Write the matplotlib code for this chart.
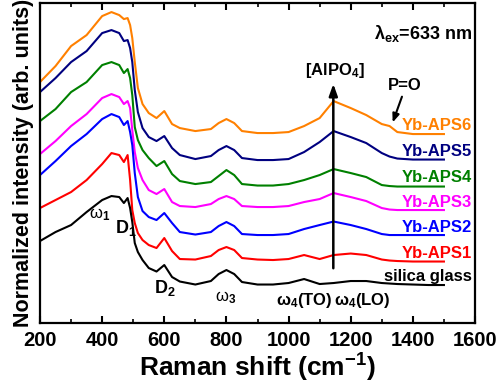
import matplotlib
matplotlib.use("Agg")
import matplotlib.pyplot as plt
from matplotlib.ticker import MultipleLocator

plt.rcParams.update({"font.family": "Liberation Sans", "font.weight": "bold",
                     "mathtext.fontset": "custom", "mathtext.rm": "Liberation Sans:bold",
                     "mathtext.it": "Liberation Sans:bold", "mathtext.bf": "Liberation Sans:bold"})

# Raman shift grid (cm-1), shared by all spectra
wn = [200, 250, 300, 350, 400, 430, 455, 470, 482, 490, 497, 505, 515, 530, 550, 575,
      600, 625, 650, 700, 750, 775, 800, 825, 850, 900, 950, 1000, 1050, 1100, 1145,
      1200, 1250, 1300, 1325, 1350, 1400, 1450, 1500]

# stacked normalized intensities (arb. units, offsets included)
aps6 = [241, 257, 277, 288, 307, 311, 308, 304, 305, 298, 285, 261, 235, 219, 210, 205,
        212, 199, 195, 192, 194, 200, 204, 200, 192, 190, 190, 191, 197, 205, 222,
        215, 208, 199, 197, 191, 189, 189, 189]
aps5 = [231, 245, 261, 272, 290, 293, 290, 282, 283, 275, 261, 233, 211, 195, 186, 182,
        187, 175, 168, 164, 167, 173, 177, 173, 165, 163, 163, 164, 171, 181, 192,
        186, 180, 170, 166.5, 164.5, 163.5, 163.5, 163.5]
aps4 = [202, 214, 231, 241, 258, 261, 258, 250, 254, 245, 228, 196, 183, 173, 165, 157,
        162, 149, 142, 139, 141, 147, 153, 148, 139, 137.5, 137.5, 139, 143, 148, 154,
        150, 146, 138, 137, 136.5, 136.5, 136.5, 136.5]
aps3 = [169, 182, 197, 209, 225, 229, 226, 219, 222, 215, 193, 171, 155, 143, 133, 129,
        134, 121, 117, 116, 119, 124, 127, 124, 117, 116, 116, 117, 121, 124, 130,
        126, 122, 115, 113.5, 113, 113, 113, 113]
aps2 = [148, 162, 177, 189, 204, 209, 206, 198, 202, 191, 178, 150, 126, 112, 106, 103,
        110, 100, 91, 88.5, 91, 97, 101, 97, 89, 88, 88, 89, 94, 98, 101.5,
        98, 94, 89, 88, 88, 88, 88, 88]
aps1 = [115, 123, 131, 143, 159, 170, 168, 161, 168, 143, 113, 100, 90, 83, 78, 75,
        85, 72, 64, 63.5, 67, 73, 76, 73, 65, 63.5, 63, 64, 68, 64, 68,
        69.5, 68, 63.5, 62.5, 62, 61.5, 61.5, 61.5]
silica = [82, 91, 98, 111, 123, 127, 126, 120, 125, 115, 101, 80, 71, 63, 55, 51.5,
          58, 46, 41.5, 38.5, 42, 49, 53, 49, 41, 38.5, 38.5, 40, 44, 39, 40,
          42, 42, 40, 39.5, 39, 38.5, 38, 38]

names = ["Yb-APS6", "Yb-APS5", "Yb-APS4", "Yb-APS3", "Yb-APS2", "Yb-APS1", "silica glass"]
series = [aps6, aps5, aps4, aps3, aps2, aps1, silica]
colors = ["#FF8000", "#000080", "#008000", "#FF00FF", "#0000FF", "#FF0000", "#000000"]
label_y = [198, 172, 146, 121, 96, 70, 47]

fig = plt.figure(figsize=(5, 3.85), dpi=100)
ax = fig.add_axes([0.08, 0.161, 0.87, 0.831])

for y, c in zip(series, colors):
    ax.plot(wn, y, color=c, lw=1.5)
for n, c, ly in zip(names, colors, label_y):
    ax.text(1590, ly, n, color=c, fontsize=12, fontweight="bold", ha="right", va="center")

ax.text(1590, 290, "λ$_{ex}$=633 nm", fontsize=13, fontweight="bold",
        ha="right", va="center")
ax.text(1149, 253, "[AlPO$_4$]", fontsize=12, fontweight="bold", ha="center", va="center")
ax.annotate("", xy=(1144, 242), xytext=(1144, 52),
            arrowprops=dict(arrowstyle="-|>,head_width=0.25,head_length=0.7", color="black", lw=1.8))
ax.text(1375, 238, "P=O", fontsize=12, fontweight="bold", ha="center", va="center")
ax.annotate("", xy=(1332, 198), xytext=(1368, 229),
            arrowprops=dict(arrowstyle="-|>,head_width=0.2,head_length=0.5", color="black", lw=1.5))

ax.text(393, 108, "ω$_1$", fontsize=12, fontweight="normal", ha="center", va="center")
ax.text(477, 95, "D$_1$", fontsize=13, fontweight="bold", ha="center", va="center")
ax.text(602, 35, "D$_2$", fontsize=13, fontweight="bold", ha="center", va="center")
ax.text(799, 25, "ω$_3$", fontsize=12, fontweight="normal", ha="center", va="center")
ax.text(1050, 23, "ω$_4$(TO)", fontsize=12, fontweight="bold", ha="center", va="center")
ax.text(1236, 23, "ω$_4$(LO)", fontsize=12, fontweight="bold", ha="center", va="center")

ax.set_xlim(200, 1600)
ax.set_ylim(0, 320)
ax.xaxis.set_major_locator(MultipleLocator(200))
ax.xaxis.set_minor_locator(MultipleLocator(100))
ax.set_yticks([])
ax.tick_params(axis="x", which="both", direction="in", top=True, labelsize=14.5, pad=6)
ax.tick_params(axis="x", which="major", length=5, width=1.5)
ax.tick_params(axis="x", which="minor", length=3, width=1.2)
for s in ax.spines.values():
    s.set_linewidth(1.6)
for lab in ax.get_xticklabels():
    lab.set_fontweight("bold")
ax.set_xlabel("Raman shift (cm$^{-1}$)", fontsize=19, fontweight="bold", labelpad=1)
ax.set_ylabel("Normalized intensity (arb. units)", fontsize=15.5, fontweight="bold", labelpad=4)

fig.savefig("out.png", dpi=100)
